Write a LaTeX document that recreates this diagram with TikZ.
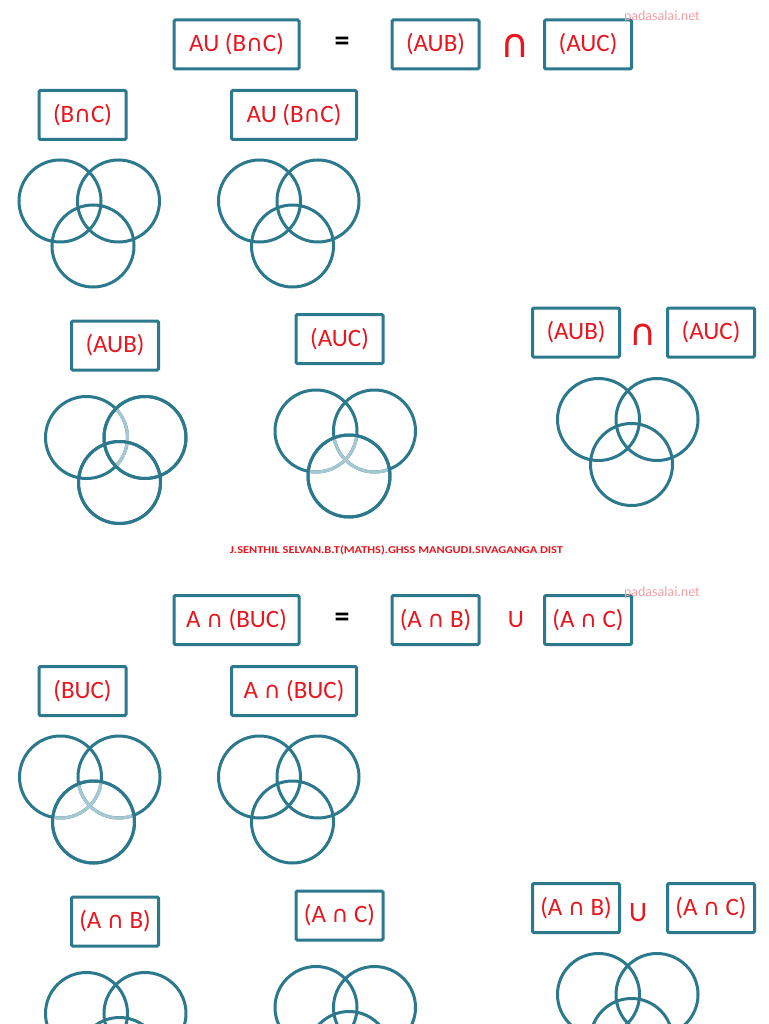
\RequirePackage{fix-cm}
\documentclass[tikz,border=0pt]{standalone}
\usepackage{fontspec}
\setmainfont{Carlito}
\newfontfamily\symfam{DejaVu Sans}
\definecolor{tealline}{RGB}{44,120,140}
\definecolor{teallight}{RGB}{165,200,210}
\definecolor{setred}{RGB}{232,22,30}
\definecolor{wmark}{RGB}{245,160,165}
\newcommand\capsym{{\symfam\fontsize{23}{26}\selectfont ∩}}
\newcommand\venntriple[2]{%
  \draw[vennline] (#1,#2) circle[radius=41];
  \draw[vennline] (#1+58.5,#2) circle[radius=41];
  \draw[vennline] (#1+33,#2+45) circle[radius=41];}
\newcommand\vennlightAinB[2]{%
  \begin{scope}\clip (#1+58.5,#2) circle[radius=41];
    \draw[lightline] (#1,#2) circle[radius=41];\end{scope}
  \draw[vennline] (#1+58.5,#2) circle[radius=41];
  \draw[vennline] (#1+33,#2+45) circle[radius=41];}
\newcommand\vennlightABinC[2]{%
  \begin{scope}\clip (#1+33,#2+45) circle[radius=41];
    \draw[lightline] (#1,#2) circle[radius=41];
    \draw[lightline] (#1+58.5,#2) circle[radius=41];\end{scope}
  \draw[vennline] (#1+33,#2+45) circle[radius=41];}
\begin{document}
\begin{tikzpicture}[x=1pt,y=-1pt,
  setbox/.style={draw=tealline, line width=3pt, rounded corners=1.2pt, inner sep=0pt,
    text=setred, font=\fontsize{25}{28}\selectfont, minimum height=49pt},
  narrowbox/.style={setbox, minimum width=87pt},
  widebox/.style={setbox, minimum width=125pt},
  opsym/.style={text=setred, inner sep=0pt},
  eqsym/.style={text=black, inner sep=0pt, font=\fontsize{30}{34}\bfseries\selectfont},
  watermark/.style={text=wmark, inner sep=0pt, font=\fontsize{14}{16}\selectfont},
  footer/.style={text=setred, inner sep=0pt, font=\fontsize{10.5}{12}\bfseries\selectfont},
  vennline/.style={draw=tealline, line width=3pt},
  lightline/.style={draw=teallight, line width=3pt}]
\useasboundingbox (0,0) rectangle (768,1024);
\fill[white] (0,0) rectangle (768,1024);

% ---------- Section 1 ----------
\node[widebox] (a1) at (236.5,44.5) {AU (B\capsym C)};
\node[eqsym] (aeq) at (342,44) {=};
\node[narrowbox] (a2) at (435.5,44.5) {(AUB)};
\node[opsym, font=\symfam\fontsize{40}{42}\selectfont] (aop) at (515,46) {∩};
\node[narrowbox] (a3) at (588,44.5) {(AUC)};
\node[watermark] (awm) at (662,17) {padasalai.net};

\node[narrowbox] (a4) at (82.5,115) {(B\capsym C)};
\node[widebox] (a5) at (294,115) {AU (B\capsym C)};
\venntriple{60}{201}
\venntriple{259.5}{201}

\node[narrowbox] (a6) at (115,345.5) {(AUB)};
\node[narrowbox] (a7) at (339.5,339) {(AUC)};
\node[narrowbox] (a8) at (576,332.5) {(AUB)};
\node[opsym, font=\symfam\fontsize{37}{40}\selectfont] (aop2) at (643,335) {∩};
\node[narrowbox] (a9) at (711,332.5) {(AUC)};
\venntriple{86.5}{437.5}
\vennlightAinB{86.5}{437.5}
\venntriple{316}{431}
\vennlightABinC{316}{431}
\venntriple{598.5}{419.5}

\node[footer] (foot) at (396.5,550) {\scalebox{1.18}[1]{J.SENTHIL SELVAN.B.T(MATHS).GHSS MANGUDI.SIVAGANGA DIST}};

% ---------- Section 2 ----------
\node[widebox] (b1) at (236.5,620) {A \capsym\ (BUC)};
\node[eqsym] (beq) at (342,620) {=};
\node[narrowbox] (b2) at (435.5,620) {(A \capsym\ B)};
\node[opsym, font=\fontsize{25}{28}\selectfont] (bop) at (516,620) {U};
\node[narrowbox] (b3) at (588,620) {(A \capsym\ C)};
\node[watermark] (bwm) at (662,593) {padasalai.net};

\node[narrowbox] (b4) at (82.5,691) {(BUC)};
\node[widebox] (b5) at (294,691) {A \capsym\ (BUC)};
\venntriple{60.5}{777}
\vennlightABinC{60.5}{777}
\venntriple{259.5}{777}

\node[narrowbox] (b6) at (115,921.5) {(A \capsym\ B)};
\node[narrowbox] (b7) at (339.5,915.5) {(A \capsym\ C)};
\node[narrowbox] (b8) at (576,908) {(A \capsym\ B)};
\node[opsym, font=\fontsize{28}{30}\selectfont] (bop2) at (638,913) {U};
\node[narrowbox] (b9) at (711,908) {(A \capsym\ C)};
\venntriple{86.5}{1013.5}
\venntriple{316}{1007.5}
\venntriple{598.5}{994.5}
\end{tikzpicture}
\end{document}
